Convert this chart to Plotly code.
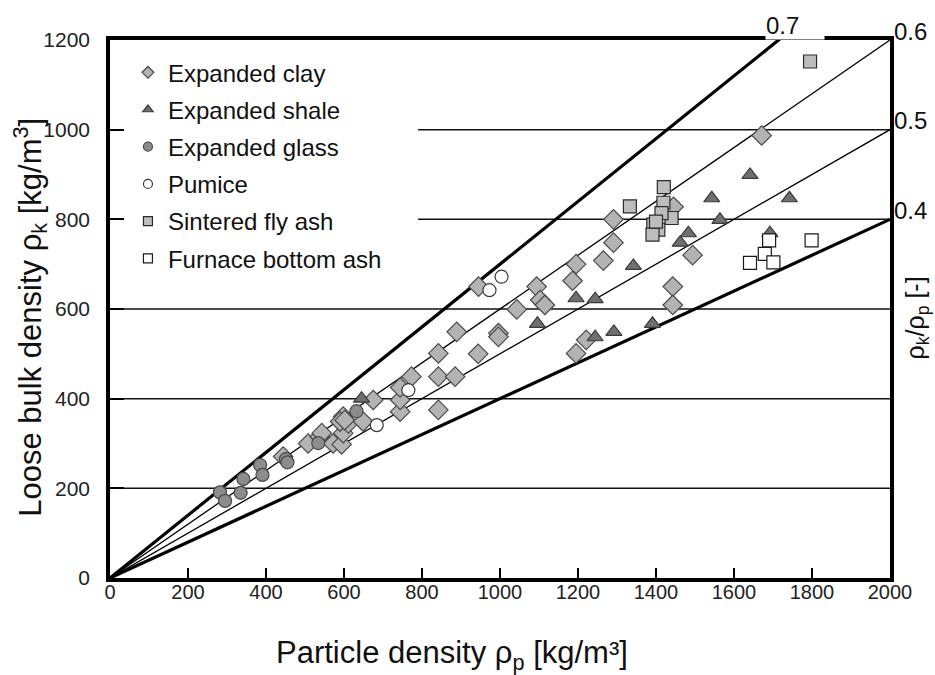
import plotly.graph_objects as go

# ---------------- data ----------------
clay_x = [444, 508, 538, 543, 572, 594, 598, 598, 611, 590, 602, 649, 675, 744, 744, 744, 773,
          842, 842, 885, 842, 889, 944, 945, 996, 996, 1043, 1094, 1103, 1115, 1186, 1195, 1195,
          1221, 1265, 1291, 1291, 1443, 1443, 1494, 1445, 1671]
clay_y = [271, 300, 315, 323, 300, 298, 323, 360, 345, 349, 352, 349, 397, 371, 397, 425, 449,
          375, 449, 449, 501, 549, 500, 650, 546, 538, 599, 650, 620, 609, 663, 700, 501,
          531, 708, 748, 800, 650, 609, 720, 828, 987]

shale_x = [645, 1096, 1195, 1244, 1244, 1292, 1391, 1342, 1462, 1483, 1543, 1564, 1641, 1692, 1742]
shale_y = [400, 567, 624, 622, 537, 549, 567, 696, 748, 769, 847, 799, 899, 769, 847]

glass_x = [282, 295, 342, 335, 385, 391, 451, 455, 534, 632]
glass_y = [191, 172, 221, 190, 252, 230, 265, 258, 301, 372]

pumice_x = [684, 765, 973, 1004]
pumice_y = [341, 419, 642, 672]

flyash_x = [1333, 1420, 1419, 1440, 1393, 1406, 1391, 1414, 1400, 1795]
flyash_y = [829, 872, 837, 803, 788, 777, 766, 814, 795, 1152]

bottom_x = [1641, 1679, 1690, 1701, 1799]
bottom_y = [703, 723, 753, 704, 753]

ratio_lines = [0.4, 0.5, 0.6, 0.7]
ratio_labels = ["0.4", "0.5", "0.6"]
x_ticks = [0, 200, 400, 600, 800, 1000, 1200, 1400, 1600, 1800, 2000]
y_ticks = [0, 200, 400, 600, 800, 1000, 1200]
full_grid = [200, 400, 600]
partial_grid = [800, 1000]
partial_grid_start = 790

X_MAX = 2000
Y_MAX = 1200

# ---------------- figure ----------------
fig = go.Figure()

line_w = {0.4: 3.2, 0.5: 1.3, 0.6: 1.3, 0.7: 3.2}
for r in ratio_lines:
    fig.add_trace(go.Scatter(x=[0, X_MAX], y=[0, r * X_MAX], mode="lines",
                             line=dict(color="black", width=line_w[r]),
                             showlegend=False, hoverinfo="skip"))

series = [
    ("Expanded clay", clay_x, clay_y, "diamond", "#b3b3b3", "#4a4a4a", 15),
    ("Expanded shale", shale_x, shale_y, "triangle-up", "#6f6f6f", "#3a3a3a", 14),
    ("Expanded glass", glass_x, glass_y, "circle", "#8c8c8c", "#4a4a4a", 13),
    ("Pumice", pumice_x, pumice_y, "circle", "white", "#3a3a3a", 13),
    ("Sintered fly ash", flyash_x, flyash_y, "square", "#bdbdbd", "#2a2a2a", 13),
    ("Furnace bottom ash", bottom_x, bottom_y, "square", "white", "#1a1a1a", 13),
]
for name, xs, ys, sym, fill, edge, sz in series:
    fig.add_trace(go.Scatter(x=xs, y=ys, mode="markers", name=name, showlegend=False,
                             marker=dict(symbol=sym, color=fill, size=sz,
                                         line=dict(color=edge, width=1.2))))
for name, xs, ys, sym, fill, edge, sz in series:
    fig.add_trace(go.Scatter(x=[None], y=[None], mode="markers", name=name,
                             legendgroup=name, showlegend=True,
                             marker=dict(symbol=sym, color=fill, size=9,
                                         line=dict(color=edge, width=1.2))))

shapes = []
for g in full_grid:
    shapes.append(dict(type="line", xref="x", yref="y", x0=0, x1=X_MAX, y0=g, y1=g,
                       line=dict(color="#111", width=1.5), layer="below"))
for g in partial_grid:
    shapes.append(dict(type="line", xref="x", yref="y", x0=partial_grid_start, x1=X_MAX,
                       y0=g, y1=g, line=dict(color="#111", width=1.5), layer="below"))

annotations = []
for lab, yv in zip(ratio_labels, [800, 1000, 1200]):
    annotations.append(dict(x=1, xref="paper", y=yv, yref="y", text=lab, showarrow=False,
                            xanchor="left", yanchor="middle", xshift=2, yshift=9,
                            font=dict(size=24, color="#111")))
annotations.append(dict(x=1714 / X_MAX, xref="paper", y=1, yref="paper", text="0.7",
                        showarrow=False, xanchor="left", yanchor="bottom", xshift=-13,
                        yshift=0, bgcolor="white", width=58, align="left", borderpad=0,
                        font=dict(size=24, color="#111")))
annotations.append(dict(x=-0.103, xref="paper", y=0.485, yref="paper",
                        text="Loose bulk density ρ<sub>k</sub> [kg/m<sup>3</sup>]",
                        textangle=-90, showarrow=False, xanchor="center", yanchor="middle",
                        font=dict(size=31, color="#111")))
annotations.append(dict(x=0.438, xref="paper", y=-0.143, yref="paper",
                        text="Particle density ρ<sub>p</sub> [kg/m³]",
                        showarrow=False, xanchor="center", yanchor="middle",
                        font=dict(size=31, color="#111")))
annotations.append(dict(x=1.035, xref="paper", y=0.483, yref="paper",
                        text="ρ<sub>k</sub>/ρ<sub>p</sub> [-]",
                        textangle=-90, showarrow=False, xanchor="center", yanchor="middle",
                        font=dict(size=25, color="#111")))

fig.update_layout(
    width=935, height=675,
    margin=dict(l=110, r=45, t=40, b=97),
    paper_bgcolor="white", plot_bgcolor="white",
    font=dict(family="Arial, Liberation Sans, sans-serif", color="#222"),
    xaxis=dict(range=[0, X_MAX], tickvals=x_ticks, ticks="inside", ticklen=10,
               tickwidth=1.5, tickcolor="black", showline=True, linewidth=3.5,
               linecolor="black", mirror=True, showgrid=False, zeroline=False,
               tickfont=dict(size=20), ticklabelstandoff=-7,
               fixedrange=True),
    yaxis=dict(range=[0, Y_MAX], tickvals=y_ticks, ticks="inside", ticklen=14,
               tickwidth=1.5, tickcolor="black", showline=True, linewidth=3.5,
               linecolor="black", mirror=True, showgrid=False, zeroline=False,
               tickfont=dict(size=21), ticklabelstandoff=12, fixedrange=True),
    legend=dict(x=0.023, y=0.981, xanchor="left", yanchor="top",
                bgcolor="rgba(0,0,0,0)", font=dict(size=24, color="#111"),
                traceorder="grouped", tracegroupgap=3),
    shapes=shapes, annotations=annotations,
)

fig.write_html("out.html")
